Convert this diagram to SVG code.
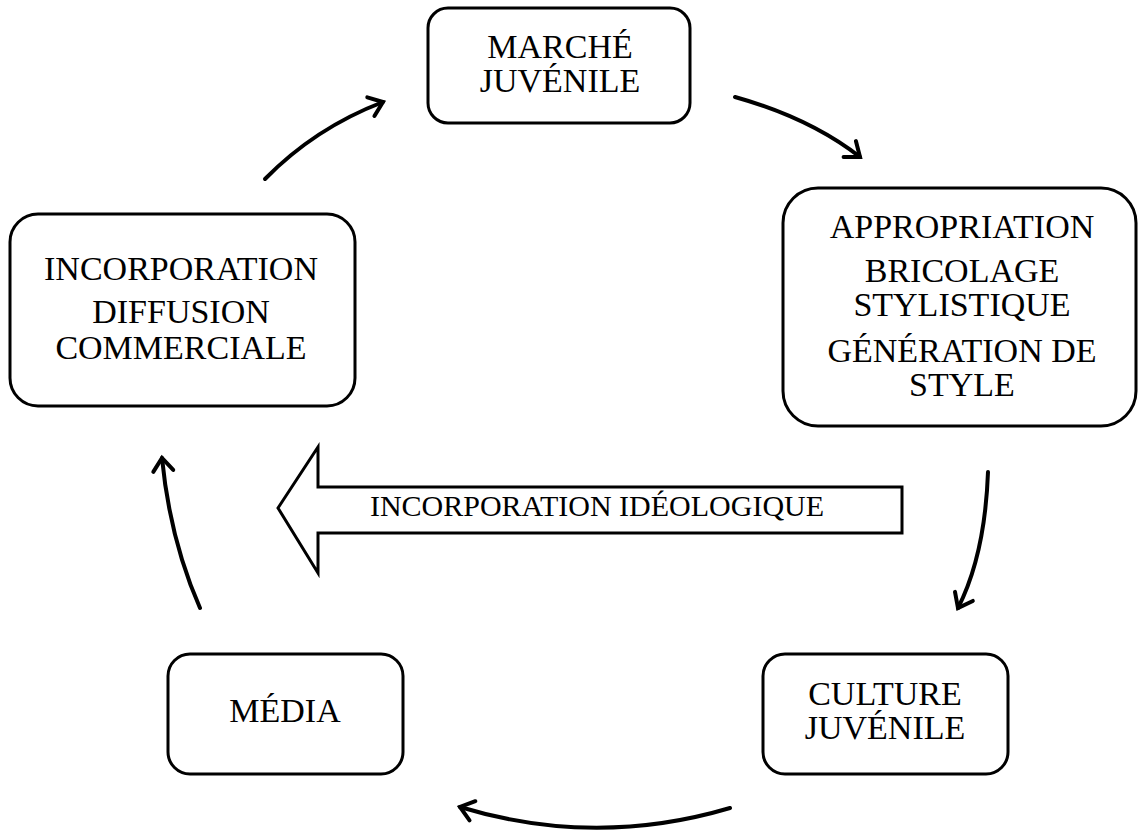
<svg xmlns="http://www.w3.org/2000/svg" width="1138" height="831" viewBox="0 0 1138 831">
<style>
.box{fill:#fff;stroke:#000;stroke-width:3}
.t{font-family:"Liberation Serif","Times New Roman",serif;font-size:34px;fill:#000;text-anchor:middle}
.t2{font-family:"Liberation Serif","Times New Roman",serif;font-size:30px;fill:#000;text-anchor:middle}
.c{fill:none;stroke:#000;stroke-width:4;stroke-linecap:round}
</style>
<defs>
<marker id="ah" markerUnits="userSpaceOnUse" markerWidth="26" markerHeight="26" viewBox="0 0 26 26" refX="17" refY="13" orient="auto">
<path d="M4,3 L17,13 L4,23" fill="none" stroke="#000" stroke-width="4" stroke-linecap="round" stroke-linejoin="miter"/>
</marker>
</defs>
<rect width="1138" height="831" fill="#fff"/>
<g id="connectors">
<path class="c" d="M265,179 Q315,128 383,102" marker-end="url(#ah)"/>
<path class="c" d="M735,97 Q810,118 860,157" marker-end="url(#ah)"/>
<path class="c" d="M988,472 Q985,555 958,608" marker-end="url(#ah)"/>
<path class="c" d="M730,808 Q595,848 460,807" marker-end="url(#ah)"/>
<path class="c" d="M200,608 Q170,540 162,458" marker-end="url(#ah)"/>
</g>
<g id="marche">
<rect class="box" x="428" y="8" width="262" height="115" rx="20"/>
<text class="t" x="560" y="58">MARCHÉ</text>
<text class="t" x="560" y="92">JUVÉNILE</text>
</g>
<g id="appropriation">
<rect class="box" x="783" y="188" width="353" height="238" rx="35"/>
<text class="t" x="962" y="238">APPROPRIATION</text>
<text class="t" x="962" y="282">BRICOLAGE</text>
<text class="t" x="962" y="316">STYLISTIQUE</text>
<text class="t" x="962" y="362">GÉNÉRATION DE</text>
<text class="t" x="962" y="396">STYLE</text>
</g>
<g id="incorporation">
<rect class="box" x="10" y="214" width="345" height="192" rx="28"/>
<text class="t" x="181" y="280">INCORPORATION</text>
<text class="t" x="181" y="323">DIFFUSION</text>
<text class="t" x="181" y="359">COMMERCIALE</text>
</g>
<g id="media">
<rect class="box" x="168" y="654" width="235" height="120" rx="22"/>
<text class="t" x="285" y="722">MÉDIA</text>
</g>
<g id="culture">
<rect class="box" x="763" y="654" width="245" height="120" rx="22"/>
<text class="t" x="885" y="705">CULTURE</text>
<text class="t" x="885" y="739">JUVÉNILE</text>
</g>
<g id="ideologique">
<polygon class="box" points="278,508 318,447 318,487 902,487 902,533 318,533 318,573"/>
<text class="t2" x="597" y="516">INCORPORATION IDÉOLOGIQUE</text>
</g>
</svg>
